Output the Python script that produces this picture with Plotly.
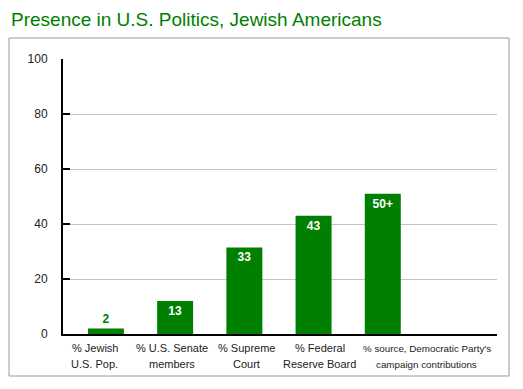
import plotly.graph_objects as go

# ---- data ----
categories = [
    "% Jewish<br>U.S. Pop.",
    "% U.S. Senate<br>members",
    "% Supreme<br>Court",
    "% Federal<br>Reserve Board",
    "% source, Democratic Party's<br>campaign contributions",
]
values = [2, 12, 31.5, 43, 51]
value_labels = ["2", "13", "33", "43", "50+"]
y_ticks = [0, 20, 40, 60, 80, 100]
title_text = "Presence in U.S. Politics, Jewish Americans"

# ---- style ----
OFF = 8  # page body margin
W, H = 523 - OFF, 389 - OFF
L, R, T, B = 63 - OFF, 26, 59 - OFF, 55
GREEN = "#008000"
SANS = "Liberation Sans, Arial, sans-serif"
label_shift = [-11, -3, 2, 6, 44]
label_sizes = [11, 11, 11, 11, 9.8]
line_centers = [14, 30]  # px below the x axis, per label line
text_pos = ["outside"] + ["inside"] * 4
text_col = [GREEN] + ["white"] * 4

fig = go.Figure()
fig.add_trace(go.Bar(
    x=categories, y=values, text=value_labels,
    marker=dict(color=GREEN, line=dict(width=0)),
    width=0.52,
    textposition=text_pos,
    insidetextanchor="end",
    textangle=0,
    constraintext="none",
    cliponaxis=False,
    textfont=dict(family=SANS, size=12, color=text_col, weight="bold"),
    hoverinfo="skip",
))

for cat, sh, sz in zip(categories, label_shift, label_sizes):
    for line, dy in zip(cat.split("<br>"), line_centers):
        fig.add_annotation(x=cat, y=0, xref="x", yref="y", text=line, showarrow=False,
                           yanchor="middle", xanchor="center", yshift=-dy, xshift=sh,
                           font=dict(family=SANS, size=sz, color="#222222"))

# outer frame in page pixel coordinates -> paper
pw, ph = W - L - R, H - T - B
def px2paper_x(px): return (px - OFF - L) / pw
def px2paper_y(py): return (H - B - (py - OFF)) / ph
fig.add_shape(type="rect", xref="paper", yref="paper",
              x0=px2paper_x(9), x1=px2paper_x(509), y0=px2paper_y(376), y1=px2paper_y(38),
              line=dict(color="#9a9a9a", width=1), fillcolor="rgba(0,0,0,0)", layer="above")

fig.update_layout(
    width=W, height=H, autosize=False,
    margin=dict(l=L, r=R, t=T, b=B),
    paper_bgcolor="white", plot_bgcolor="white",
    showlegend=False,
    font=dict(family=SANS, size=12, color="#222222"),
    title=dict(text=title_text, xref="container", yref="container",
               x=(11 - OFF) / W, xanchor="left", y=1 - (19 - OFF) / H, yanchor="middle",
               font=dict(family=SANS, size=19, color=GREEN)),
    xaxis=dict(range=[-0.62, 5.65], showticklabels=False, ticks="", showgrid=False,
               showline=True, linecolor="black", linewidth=2, zeroline=False, fixedrange=True),
    yaxis=dict(range=[0, 100.01], tickvals=y_ticks, ticks="inside", ticklen=7, tickwidth=2,
               tickcolor="black", showline=True, linecolor="black", linewidth=2,
               showgrid=True, gridcolor="#c4c4c4", gridwidth=1, zeroline=False,
               ticklabelstandoff=11, tickfont=dict(size=12, color="#222222"), fixedrange=True),
)

fig.write_html("out.html")
